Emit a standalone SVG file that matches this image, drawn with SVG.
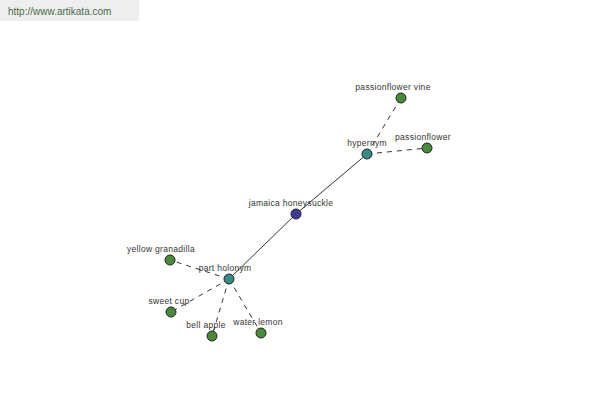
<svg xmlns="http://www.w3.org/2000/svg" width="600" height="400" viewBox="0 0 600 400">
<style>
text{font-family:"Liberation Sans",Arial,sans-serif;font-size:8.5px;letter-spacing:0.3px;fill:#333;text-anchor:middle}
.n{stroke:#222;stroke-width:1}
.g{fill:#4a8a3c}.t{fill:#3a8a8c}.b{fill:#3c3c96}
.solid{stroke:#000;stroke-width:0.8;fill:none}
.dash{stroke:#000;stroke-width:0.8;stroke-dasharray:5,5;fill:none}
</style>
<rect x="0" y="0" width="139" height="21" fill="#eeeeee"/>
<text x="8" y="15" style="text-anchor:start;font-size:10px;letter-spacing:0;fill:#4d6a4d">http://www.artikata.com</text>
<g id="connectors">
<line class="solid" x1="296" y1="214" x2="367" y2="154"/>
<line class="solid" x1="296" y1="214" x2="229" y2="279"/>
<line class="dash" x1="367" y1="154" x2="401" y2="98"/>
<line class="dash" x1="367" y1="154" x2="427" y2="148"/>
<line class="dash" x1="229" y1="279" x2="170" y2="260"/>
<line class="dash" x1="229" y1="279" x2="171" y2="312"/>
<line class="dash" x1="229" y1="279" x2="212" y2="336"/>
<line class="dash" x1="229" y1="279" x2="261" y2="333"/>
</g>
<g id="jamaica"><circle class="n b" cx="296" cy="214" r="5"/><text x="291" y="206">jamaica honeysuckle</text></g>
<g id="hypernym"><circle class="n t" cx="367" cy="154" r="5"/><text x="367" y="146">hypernym</text></g>
<g id="vine"><circle class="n g" cx="401" cy="98" r="5"/><text x="393" y="90">passionflower vine</text></g>
<g id="passionflower"><circle class="n g" cx="427" cy="148" r="5"/><text x="423" y="140">passionflower</text></g>
<g id="holonym"><circle class="n t" cx="229" cy="279" r="5"/><text x="225" y="271">part holonym</text></g>
<g id="granadilla"><circle class="n g" cx="170" cy="260" r="5"/><text x="161" y="252">yellow granadilla</text></g>
<g id="sweetcup"><circle class="n g" cx="171" cy="312" r="5"/><text x="169" y="304">sweet cup</text></g>
<g id="bellapple"><circle class="n g" cx="212" cy="336" r="5"/><text x="206" y="328">bell apple</text></g>
<g id="waterlemon"><circle class="n g" cx="261" cy="333" r="5"/><text x="258" y="325">water lemon</text></g>
</svg>
